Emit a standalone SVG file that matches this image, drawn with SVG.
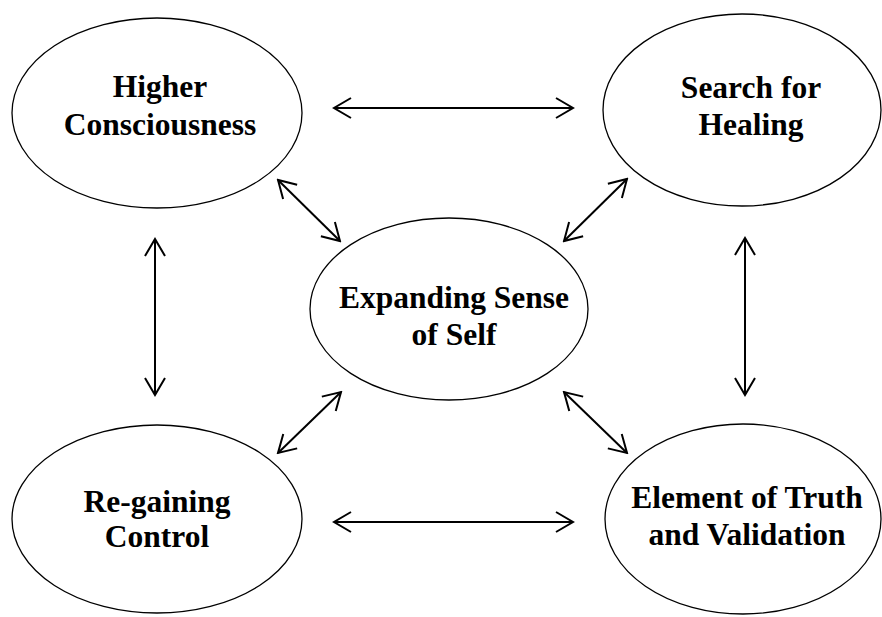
<svg xmlns="http://www.w3.org/2000/svg" width="882" height="617" viewBox="0 0 882 617">
<defs>
<style>
.node ellipse{fill:#fff;stroke:#000;stroke-width:1.3}
.node text{font-family:"Liberation Serif","Times New Roman",serif;font-weight:bold;font-size:31.5px;text-anchor:middle;fill:#000}
.conn line{stroke:#000;stroke-width:2;marker-start:url(#ah);marker-end:url(#ah)}
</style>
<marker id="ah" viewBox="-22 -13 24 26" markerWidth="24" markerHeight="26" refX="0" refY="0" markerUnits="userSpaceOnUse" orient="auto-start-reverse">
<path d="M-17,-10 L0,0 L-17,10" fill="none" stroke="#000" stroke-width="2"/>
</marker>
</defs>
<rect width="882" height="617" fill="#fff"/>
<g id="higher-consciousness" class="node">
<ellipse cx="157" cy="113" rx="145" ry="95"/>
<text x="160" y="97">Higher</text>
<text x="160" y="135">Consciousness</text>
</g>
<g id="search-for-healing" class="node">
<ellipse cx="742" cy="110" rx="139" ry="96"/>
<text x="751" y="98">Search for</text>
<text x="751" y="135">Healing</text>
</g>
<g id="expanding-sense-of-self" class="node">
<ellipse cx="449" cy="309" rx="139" ry="91"/>
<text x="454" y="308">Expanding Sense</text>
<text x="454" y="345">of Self</text>
</g>
<g id="re-gaining-control" class="node">
<ellipse cx="157" cy="519" rx="145" ry="94"/>
<text x="157" y="512">Re-gaining</text>
<text x="157" y="547">Control</text>
</g>
<g id="element-of-truth" class="node">
<ellipse cx="743" cy="519" rx="138" ry="95"/>
<text x="747" y="508">Element of Truth</text>
<text x="747" y="545">and Validation</text>
</g>
<g id="connectors" class="conn">
<line x1="334" y1="108" x2="573" y2="108"/>
<line x1="334" y1="522" x2="573" y2="522"/>
<line x1="155" y1="239" x2="155" y2="395"/>
<line x1="745" y1="238" x2="745" y2="395"/>
<line x1="278" y1="180" x2="340" y2="241"/>
<line x1="627" y1="179" x2="564" y2="241"/>
<line x1="341" y1="392" x2="278" y2="453"/>
<line x1="564" y1="392" x2="627" y2="453"/>
</g>
</svg>
